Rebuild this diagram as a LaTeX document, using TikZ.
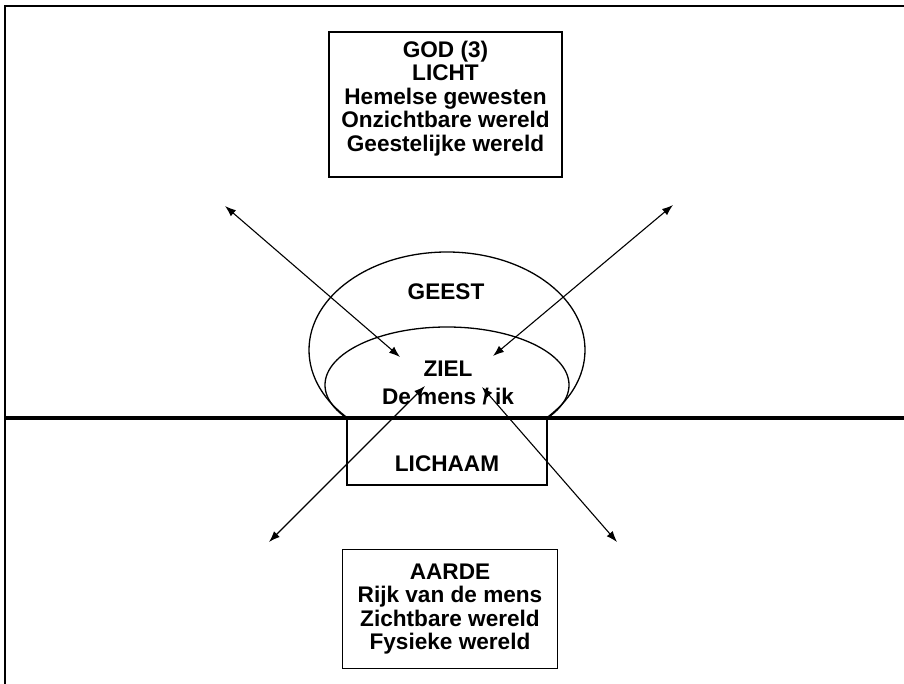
\documentclass[tikz,border=0pt]{standalone}
\usepackage{fontspec}
\setmainfont{Liberation Sans}
\usetikzlibrary{arrows.meta,positioning,calc}

\begin{document}
\begin{tikzpicture}[
  x=0.5pt, y=0.5pt,
  box/.style={
    draw,
    line width=0.6pt,
    inner sep=0pt,
    align=center,
    font=\fontsize{11.3}{11.75}\selectfont\bfseries
  },
  tag/.style={align=center,font=\fontsize{11.3}{13}\selectfont\bfseries},
  rim/.style={line width=0.65pt},
  arrow/.style={{Latex[length=5.5pt,width=4pt]}-{Latex[length=5.5pt,width=4pt]},line width=0.55pt}
]
  \useasboundingbox (0,0) rectangle (904,-684);
  % frame and the line between heaven and earth
  \draw[line width=1pt] (5,-684) -- (5,-6) -- (904,-6);

  \node[box,minimum width=116.5pt,minimum height=72.5pt,text depth=8.4pt] (god) at (445.5,-104.5)
    {GOD (3)\\LICHT\\Hemelse gewesten\\Onzichtbare wereld\\Geestelijke wereld};
  \node[box,minimum width=107.5pt,minimum height=59.5pt] (aarde) at (450,-609)
    {AARDE\\Rijk van de mens\\Zichtbare wereld\\Fysieke wereld};

  % spirit and soul, cut off at the ground line
  \begin{scope}
    \clip (0,0) rectangle (904,-418);
    \draw[rim] (447,-350) ellipse [x radius=138, y radius=98];
    \draw[rim] (447,-385) ellipse [x radius=122, y radius=58];
  \end{scope}
  \node[draw,rim,inner sep=0pt,minimum width=100pt,minimum height=33.5pt] (lichaam) at (447,-451.5) {};
  \draw[line width=1.6pt] (5,-418) -- (904,-418);

  \node[tag] (geest) at (446,-292) {GEEST};
  \node[tag] (ziel) at (448,-369) {ZIEL};
  \node[tag] (mens) at (448,-397) {De mens / ik};
  \node[tag] (lichaamtxt) at (447,-464) {LICHAAM};

  \coordinate (nw) at (225,-206);
  \coordinate (ne) at (673,-205);
  \coordinate (sw) at (269,-542);
  \coordinate (se) at (617,-542);
  \coordinate (zielnw) at (400,-357);
  \coordinate (zielne) at (493,-356);
  \coordinate (zielsw) at (425,-386);
  \coordinate (zielse) at (482,-387);

  \draw[arrow] (nw) -- (zielnw);
  \draw[arrow] (ne) -- (zielne);
  \draw[arrow] (sw) -- (zielsw);
  \draw[arrow] (se) -- (zielse);
\end{tikzpicture}
\end{document}
